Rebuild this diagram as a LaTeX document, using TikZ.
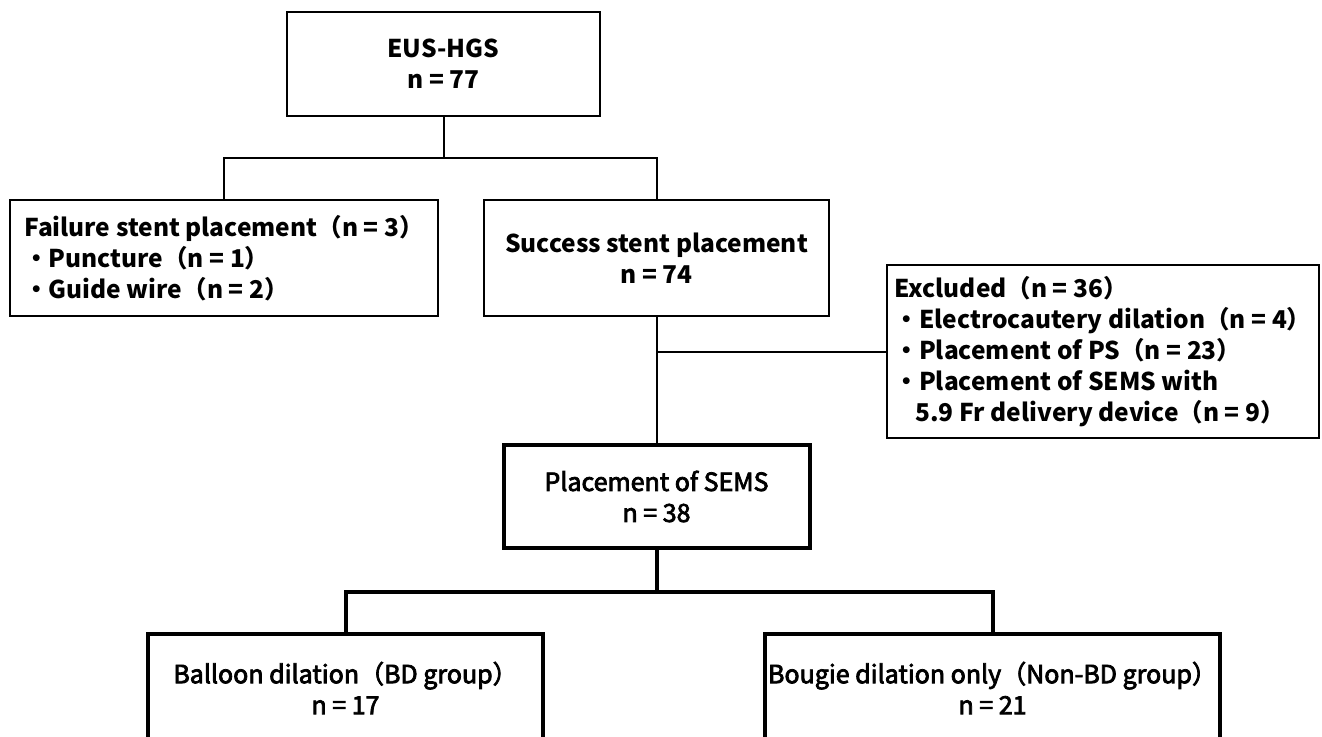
\documentclass[tikz,border=0pt]{standalone}
\usepackage{fontspec}
\setmainfont{Noto Sans CJK JP}
\newfontfamily\medfont[FakeBold=3]{Noto Sans CJK JP}
\begin{document}
\begin{tikzpicture}[x=1pt,y=-1pt,
  thinbox/.style={draw, line width=2pt, font=\bfseries\fontsize{24.5}{31}\selectfont, inner sep=0pt},
  thickbox/.style={draw, line width=4pt, font=\medfont\fontsize{25}{31}\selectfont, inner sep=0pt, align=center},
  thinline/.style={line width=2pt},
  thickline/.style={line width=4pt}]
\useasboundingbox (0,0) rectangle (1322,736);
\clip (0,0) rectangle (1322,736);
\node[thinbox, align=center, minimum width=313pt, minimum height=104pt] (top) at (443.5,64) {EUS-HGS\\n = 77};
\node[thinbox, align=left, minimum width=428pt, minimum height=116pt] (fail) at (224,258)
  {Failure stent placement（n = 3）\\・Puncture（n = 1）\\・Guide wire（n = 2）};
\node[thinbox, align=center, minimum width=345pt, minimum height=116pt] (succ) at (656.5,258) {Success stent placement\\n = 74};
\node[thinbox, align=left, minimum width=432pt, minimum height=173pt] (excl) at (1103,351.5)
  {Excluded（n = 36）\\・Electrocautery dilation（n = 4）\\・Placement of PS（n = 23）\\・Placement of SEMS with\\\hspace*{0.85em}5.9 Fr delivery device（n = 9）};
\node[thickbox, minimum width=306pt, minimum height=103pt] (sems) at (656.5,496.5) {Placement of SEMS\\n = 38};
\node[thickbox, minimum width=395pt, minimum height=108pt] (bd) at (345.5,688) {Balloon dilation（BD group）\\n = 17};
\node[thickbox, minimum width=455pt, minimum height=108pt] (nbd) at (992.5,688) {Bougie dilation only（Non-BD group）\\n = 21};
\coordinate (c1) at (656.5,158);
\coordinate (c2) at (656.5,592);
\draw[thinline] (top.south) -- (top.south |- c1);
\draw[thinline] (fail.north) |- (c1) -- (succ.north);
\draw[thinline] (succ.south) -- (sems.north);
\draw[thinline] (excl.west) -- (excl.west -| sems.north);
\draw[thickline] (sems.south) -- (c2);
\draw[thickline] (bd.north) |- (c2) -| (nbd.north);
\end{tikzpicture}
\end{document}
